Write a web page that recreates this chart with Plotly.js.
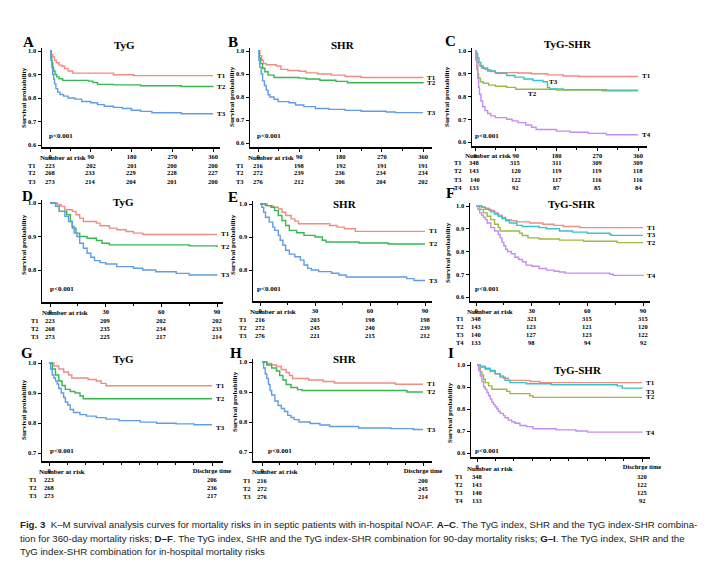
<!DOCTYPE html>
<html>
<head>
<meta charset="utf-8">
<script src="https://cdn.plot.ly/plotly-3.0.1.min.js"></script>
<style>
  html, body { margin: 0; padding: 0; background: #fff; }
  #fig { width: 718px; height: 575px; }
</style>
</head>
<body>
<div id="fig"></div>
<script>
// K-M curves: [time, survival] steps
// A: TyG, 360-day
const A_T1 = [[0,1],[3,0.985],[6,0.975],[10,0.96],[14,0.95],[20,0.94],[26,0.935],[32,0.925],[40,0.915],[50,0.906],[140,0.899],[185,0.895],[360,0.895]];
const A_T2 = [[0,1],[2,0.97],[4,0.95],[6,0.93],[8,0.915],[11,0.9],[15,0.89],[20,0.882],[28,0.875],[85,0.872],[95,0.866],[105,0.858],[140,0.856],[200,0.852],[290,0.849],[360,0.847]];
const A_T3 = [[0,1],[2,0.96],[4,0.93],[6,0.9],[8,0.88],[10,0.86],[13,0.84],[17,0.825],[22,0.815],[30,0.808],[40,0.8],[55,0.795],[70,0.785],[90,0.78],[105,0.772],[120,0.765],[140,0.76],[160,0.755],[180,0.748],[200,0.743],[225,0.737],[290,0.733],[360,0.733]];
// B: SHR, 360-day
const B_T1 = [[0,1],[4,0.98],[8,0.96],[12,0.945],[18,0.94],[40,0.935],[50,0.92],[65,0.915],[90,0.912],[105,0.905],[130,0.9],[160,0.895],[190,0.889],[225,0.885],[360,0.884]];
const B_T2 = [[0,1],[3,0.97],[6,0.945],[10,0.925],[15,0.91],[22,0.895],[35,0.885],[90,0.882],[105,0.878],[135,0.873],[170,0.868],[195,0.862],[360,0.86]];
const B_T3 = [[0,1],[2,0.96],[4,0.93],[7,0.9],[10,0.87],[14,0.85],[18,0.83],[22,0.81],[26,0.8],[35,0.79],[44,0.78],[68,0.775],[82,0.765],[100,0.758],[125,0.75],[155,0.746],[190,0.742],[225,0.738],[280,0.735],[300,0.732],[360,0.732]];
// C: TyG-SHR, 360-day
const C_T1 = [[0,1],[3,0.97],[6,0.95],[9,0.935],[14,0.925],[22,0.918],[35,0.91],[45,0.905],[95,0.903],[125,0.9],[160,0.895],[195,0.89],[230,0.888],[360,0.888]];
const C_T2 = [[0,1],[2,0.96],[4,0.93],[6,0.9],[8,0.88],[12,0.865],[18,0.858],[30,0.85],[45,0.845],[70,0.84],[90,0.832],[180,0.828],[280,0.825],[360,0.825]];
const C_T3 = [[0,1],[3,0.99],[6,0.97],[9,0.95],[13,0.935],[18,0.925],[28,0.912],[45,0.902],[70,0.892],[88,0.885],[108,0.877],[128,0.87],[150,0.865],[160,0.84],[165,0.833],[195,0.83],[290,0.828],[360,0.827]];
const C_T4 = [[0,1],[2,0.96],[4,0.92],[6,0.88],[8,0.84],[10,0.81],[13,0.78],[17,0.755],[22,0.738],[28,0.725],[35,0.715],[45,0.707],[70,0.7],[82,0.693],[95,0.685],[112,0.675],[125,0.665],[135,0.655],[180,0.648],[210,0.643],[250,0.638],[290,0.632],[360,0.632]];
// D: TyG, 90-day
const D_T1 = [[0,1],[4,0.995],[6,0.99],[8,0.98],[12,0.975],[14,0.965],[16,0.955],[18,0.945],[25,0.94],[27,0.932],[32,0.925],[36,0.92],[41,0.915],[45,0.91],[50,0.906],[90,0.906]];
const D_T2 = [[0,1],[3,0.99],[5,0.975],[9,0.965],[11,0.945],[12,0.925],[14,0.91],[16,0.9],[20,0.895],[25,0.888],[28,0.88],[32,0.875],[75,0.872],[90,0.869]];
const D_T3 = [[0,1],[3,0.99],[5,0.975],[8,0.96],[10,0.945],[12,0.93],[13,0.91],[14.5,0.9],[16,0.88],[18,0.865],[20,0.85],[22,0.838],[24,0.828],[27,0.822],[30,0.818],[36,0.81],[45,0.805],[50,0.8],[57,0.795],[68,0.79],[75,0.785],[90,0.784]];
// E: SHR, 90-day
const E_T1 = [[0,1],[4,0.995],[7,0.99],[10,0.985],[12,0.975],[14,0.965],[17,0.955],[19,0.948],[21,0.94],[38,0.935],[42,0.93],[46,0.925],[52,0.917],[90,0.917]];
const E_T2 = [[0,1],[3,0.995],[6,0.99],[8,0.98],[10,0.965],[12,0.95],[14,0.935],[16,0.92],[20,0.913],[24,0.905],[30,0.9],[34,0.89],[36,0.885],[54,0.882],[70,0.879],[90,0.879]];
const E_T3 = [[0,1],[1,0.99],[2,0.975],[3,0.96],[5,0.945],[7,0.93],[8,0.92],[10,0.905],[11,0.89],[12.5,0.875],[14,0.86],[16,0.848],[19,0.84],[22,0.83],[24,0.815],[26,0.805],[28,0.8],[32,0.795],[39,0.79],[43,0.785],[47,0.779],[80,0.774],[84,0.768],[90,0.768]];
// F: TyG-SHR, 90-day
const F_T1 = [[0,1],[3,0.995],[5,0.99],[7,0.98],[10,0.97],[12,0.96],[14,0.95],[16,0.94],[19,0.935],[22,0.93],[29,0.925],[36,0.92],[42,0.915],[47,0.91],[56,0.905],[90,0.905]];
const F_T2 = [[0,1],[2,0.985],[4,0.97],[6,0.955],[8,0.94],[10,0.92],[12,0.905],[13,0.89],[23.5,0.88],[25,0.87],[28,0.86],[34,0.855],[45,0.85],[58,0.845],[76,0.839],[90,0.839]];
const F_T3 = [[0,1],[3,0.995],[5,0.985],[8,0.975],[10,0.965],[12,0.955],[14,0.945],[16,0.935],[18,0.925],[22,0.915],[25,0.91],[34,0.905],[38,0.9],[45,0.89],[52,0.885],[60,0.88],[72,0.875],[73,0.871],[90,0.871]];
const F_T4 = [[0,1],[1,0.985],[2,0.97],[3,0.96],[4,0.95],[5,0.94],[6,0.925],[8,0.905],[10,0.89],[12,0.875],[13,0.86],[14,0.84],[15,0.825],[16,0.81],[17,0.8],[19,0.79],[21,0.775],[23,0.765],[25,0.755],[27,0.74],[30,0.735],[34,0.725],[38,0.718],[42,0.713],[45,0.71],[48,0.705],[72,0.7],[74,0.695],[90,0.692]];
// G: TyG, in-hospital (time scaled to discharge = 100)
const G_T1 = [[0,1],[3,0.99],[6,0.98],[9,0.97],[12,0.96],[14,0.95],[24,0.945],[29,0.94],[32,0.932],[35,0.924],[100,0.924]];
const G_T2 = [[0,1],[2,0.98],[4,0.96],[6,0.94],[8,0.925],[10,0.912],[13,0.905],[16,0.9],[19,0.89],[21,0.881],[100,0.881]];
const G_T3 = [[0,1],[1,0.98],[2,0.96],[3,0.95],[4,0.94],[5,0.93],[6,0.915],[7.5,0.9],[9,0.885],[10,0.87],[11.5,0.86],[13,0.845],[15,0.835],[19,0.828],[23,0.823],[29,0.818],[35,0.813],[43,0.808],[56,0.803],[66,0.799],[78,0.797],[89,0.794],[100,0.794]];
// H: SHR, in-hospital
const H_T1 = [[0,1],[3,0.995],[6,0.99],[9,0.985],[12,0.975],[15,0.965],[17,0.955],[19,0.945],[29,0.94],[38,0.935],[45,0.93],[83,0.926],[100,0.926]];
const H_T2 = [[0,1],[3,0.99],[6,0.98],[9,0.97],[11,0.955],[13,0.94],[15,0.925],[18,0.915],[22,0.908],[25,0.905],[90,0.9],[100,0.9]];
const H_T3 = [[0,1],[1,0.98],[2,0.96],[3,0.945],[4,0.925],[5,0.905],[6,0.89],[8,0.87],[10,0.855],[12,0.845],[14,0.835],[16,0.822],[18,0.815],[20,0.808],[23,0.8],[30,0.795],[36,0.79],[42,0.785],[60,0.78],[80,0.778],[94,0.775],[100,0.775]];
// I: TyG-SHR, in-hospital
const I_T1 = [[0,1],[2,0.99],[5,0.98],[8,0.97],[11,0.96],[14,0.95],[16,0.94],[19,0.93],[32,0.925],[38,0.92],[100,0.92]];
const I_T2 = [[0,1],[1,0.985],[2,0.97],[3,0.955],[4,0.935],[5,0.92],[7,0.905],[9,0.89],[18,0.88],[20,0.87],[32,0.86],[34,0.853],[100,0.853]];
const I_T3 = [[0,1],[2,0.995],[5,0.985],[8,0.975],[11,0.96],[14,0.945],[17,0.93],[20,0.92],[30,0.915],[45,0.91],[85,0.905],[88,0.895],[100,0.893]];
const I_T4 = [[0,1],[1,0.975],[2,0.95],[3,0.925],[4,0.9],[5,0.89],[6,0.875],[7,0.86],[8,0.845],[9,0.83],[10,0.82],[11,0.81],[12,0.8],[13,0.79],[14,0.78],[16,0.77],[17,0.76],[19,0.75],[21,0.742],[23,0.735],[26,0.725],[30,0.72],[34,0.71],[48,0.705],[60,0.7],[67,0.695],[100,0.692]];

// number at risk
const riskTimes360 = [0, 90, 180, 270, 360];
const riskTimes90 = [0, 30, 60, 90];
const riskTimesHosp = [0, 100];
const riskA = [[223,202,201,200,200],[268,233,229,228,227],[273,214,204,201,200]];
const riskB = [[216,198,192,191,191],[272,239,236,234,234],[276,212,206,204,202]];
const riskC = [[348,315,311,309,309],[143,120,119,119,118],[140,122,117,116,116],[133,92,87,85,84]];
const riskD = [[223,209,202,202],[268,235,234,233],[273,225,217,214]];
const riskE = [[216,203,198,198],[272,245,240,239],[276,221,215,212]];
const riskF = [[348,321,315,315],[143,123,121,120],[140,127,123,122],[133,98,94,92]];
const riskG = [[223,206],[268,236],[273,217]];
const riskH = [[216,200],[272,245],[276,214]];
const riskI = [[348,320],[143,122],[140,125],[133,92]];

const groups3 = ['T1', 'T2', 'T3'];
const groups4 = ['T1', 'T2', 'T3', 'T4'];

const W = 718, H = 575;
const SERIF = 'Liberation Serif, Times New Roman, serif';
const COL3 = ['#f28b80', '#35b84e', '#5f9de6'];
const COL4 = ['#f28b80', '#9dbb3c', '#35c4c9', '#c78cf2'];

// panel geometry in pixels: box = [left, right, top, bottom] of the axes
const panels = [
  { key: 'A', title: 'TyG', curves: [A_T1, A_T2, A_T3], risk: riskA, rt: riskTimes360, box: [42, 220, 48, 147], xa: [[0, 50], [360, 213]], ya: [[1, 51], [0.6, 145]], kind: 'y',
    titleXY: [124, 45], letterXY: [28, 42], ytXY: [24, 98], pXY: [47, 136], narXY: [63, 158], rowX: 32, rowY: [165, 173, 181] },
  { key: 'B', title: 'SHR', curves: [B_T1, B_T2, B_T3], risk: riskB, rt: riskTimes360, box: [250, 432, 48, 147], xa: [[0, 258], [360, 423]], ya: [[1, 51], [0.6, 143]], kind: 'y',
    titleXY: [343, 45], letterXY: [233, 42], ytXY: [232, 97], pXY: [255, 136], narXY: [271, 158], rowX: 240, rowY: [165, 173, 181] },
  { key: 'C', title: 'TyG-SHR', curves: [C_T1, C_T2, C_T3, C_T4], risk: riskC, rt: riskTimes360, box: [472, 647, 48, 146], xa: [[0, 475], [360, 638]], ya: [[1, 51], [0.6, 142]], kind: 'y',
    titleXY: [568, 44], letterXY: [451, 41], ytXY: [447, 97], pXY: [473, 136], narXY: [488, 156], rowX: 458, rowY: [163, 171, 179, 187],
    midLabels: { T2: [126, 0.811], T3: [174, 0.862] } },
  { key: 'D', title: 'TyG', curves: [D_T1, D_T2, D_T3], risk: riskD, rt: riskTimes90, box: [42, 223, 200, 302], xa: [[0, 50], [90, 217]], ya: [[1, 203], [0.8, 270]], kind: 'q',
    titleXY: [123, 202], letterXY: [27, 196], ytXY: [24, 245], pXY: [48, 289], narXY: [65, 313], rowX: 35, rowY: [320, 328, 336] },
  { key: 'E', title: 'SHR', curves: [E_T1, E_T2, E_T3], risk: riskE, rt: riskTimes90, box: [253, 432, 201, 301], xa: [[0, 260], [90, 425]], ya: [[1, 204], [0.8, 270]], kind: 'q',
    titleXY: [345, 204], letterXY: [233, 197], ytXY: [233, 245], pXY: [255, 289], narXY: [273, 312], rowX: 243, rowY: [319, 327, 335] },
  { key: 'F', title: 'TyG-SHR', curves: [F_T1, F_T2, F_T3, F_T4], risk: riskF, rt: riskTimes90, box: [470, 650, 203, 301], xa: [[0, 476], [90, 643]], ya: [[1, 206], [0.6, 297]], kind: 'q',
    titleXY: [572, 204], letterXY: [451, 193], ytXY: [448, 253], pXY: [473, 289], narXY: [490, 312], rowX: 460, rowY: [318, 326, 334, 342] },
  { key: 'G', title: 'TyG', curves: [G_T1, G_T2, G_T3], risk: riskG, rt: riskTimesHosp, box: [42, 223, 360, 461], xa: [[0, 49], [100, 212]], ya: [[1, 363], [0.7, 453]], kind: 'h',
    titleXY: [123, 359], letterXY: [27, 353], ytXY: [24, 410], pXY: [48, 451], narXY: [62, 472], rowX: 33, rowY: [479, 487, 495], labelShift: { T3: -3 } },
  { key: 'H', title: 'SHR', curves: [H_T1, H_T2, H_T3], risk: riskH, rt: riskTimesHosp, box: [253, 432, 359, 461], xa: [[0, 262], [100, 423]], ya: [[1, 362], [0.7, 452]], kind: 'h',
    titleXY: [345, 359], letterXY: [236, 353], ytXY: [235, 402], pXY: [266, 451], narXY: [275, 472], rowX: 247, rowY: [480, 488, 496] },
  { key: 'I', title: 'TyG-SHR', curves: [I_T1, I_T2, I_T3, I_T4], risk: riskI, rt: riskTimesHosp, box: [471, 650, 362, 457], xa: [[0, 477], [100, 642]], ya: [[1, 365], [0.6, 453]], kind: 'h',
    titleXY: [578, 370], letterXY: [451, 353], ytXY: [450, 413], pXY: [473, 451], narXY: [490, 469], rowX: 459, rowY: [476, 484, 492, 500], labelShift: { T3: -3 } }
];

function font(size, extra) {
  return Object.assign({ family: SERIF, size: size, color: '#000', weight: 'bold' }, extra || {});
}

function note(text, xPx, yPx, size, opts) {
  return Object.assign({
    text: text, x: xPx / W, y: 1 - yPx / H, xref: 'paper', yref: 'paper',
    showarrow: false, font: font(size), xanchor: 'center', yanchor: 'middle'
  }, opts || {});
}

// value range that makes the two anchor points land on their pixels
function rangeFrom(anchors, p0, p1) {
  const [[v1, q1], [v2, q2]] = anchors;
  const k = (v2 - v1) / (q2 - q1);
  return [v1 + (p0 - q1) * k, v1 + (p1 - q1) * k];
}

const traces = [];
const annotations = [];
const layout = {
  width: W, height: H,
  margin: { l: 0, r: 0, t: 0, b: 0 },
  paper_bgcolor: '#fff', plot_bgcolor: '#fff',
  showlegend: false, hovermode: false,
  annotations: annotations
};

panels.forEach((p, i) => {
  const n = i + 1;
  const xk = n === 1 ? 'x' : 'x' + n;
  const yk = n === 1 ? 'y' : 'y' + n;
  const [x0, x1, yT, yB] = p.box;
  const names = p.curves.length === 4 ? groups4 : groups3;
  const colors = p.curves.length === 4 ? COL4 : COL3;

  const xaxis = {
    domain: [x0 / W, x1 / W], anchor: yk,
    range: rangeFrom(p.xa, x0, x1),
    showline: true, linecolor: '#000', linewidth: 1.5,
    showgrid: false, zeroline: false,
    ticks: 'outside', ticklen: 3, tickwidth: 1, tickcolor: '#000',
    tickfont: font(6.5), fixedrange: true
  };
  if (p.kind === 'y') {
    Object.assign(xaxis, { tickmode: 'linear', tick0: 0, dtick: 90,
      minor: { tickmode: 'linear', tick0: 0, dtick: 45, ticks: 'outside', ticklen: 2, tickcolor: '#000' } });
  } else if (p.kind === 'q') {
    Object.assign(xaxis, { tickmode: 'linear', tick0: 0, dtick: 30,
      minor: { tickmode: 'linear', tick0: 0, dtick: 15, ticks: 'outside', ticklen: 2, tickcolor: '#000' } });
  } else {
    Object.assign(xaxis, { tickmode: 'array', tickvals: riskTimesHosp, ticktext: ['0', 'Dischrge time'],
      minor: { tickmode: 'linear', tick0: 0, dtick: 100 / 9, ticks: 'outside', ticklen: 2, tickcolor: '#000' } });
  }
  const yaxis = {
    domain: [1 - yB / H, 1 - yT / H], anchor: xk,
    range: rangeFrom(p.ya, yB, yT),
    showline: true, linecolor: '#000', linewidth: 1.5,
    showgrid: false, zeroline: false,
    tickmode: 'linear', tick0: 0, dtick: 0.1, tickformat: '.1f',
    ticks: 'outside', ticklen: 3, tickwidth: 1, tickcolor: '#000',
    tickfont: font(6.5), fixedrange: true
  };
  layout['xaxis' + (n === 1 ? '' : n)] = xaxis;
  layout['yaxis' + (n === 1 ? '' : n)] = yaxis;

  p.curves.forEach((c, j) => {
    traces.push({
      type: 'scatter', mode: 'lines', xaxis: xk, yaxis: yk,
      x: c.map(d => d[0]), y: c.map(d => d[1]),
      line: { shape: 'hv', color: colors[j], width: 1.4 },
      hoverinfo: 'skip'
    });
    const name = names[j];
    const mid = p.midLabels && p.midLabels[name];
    const last = c[c.length - 1];
    annotations.push({
      text: name, xref: xk, yref: yk,
      x: mid ? mid[0] : last[0], y: mid ? mid[1] : last[1],
      xanchor: mid ? 'center' : 'left', yanchor: 'middle',
      xshift: mid ? 0 : 2, yshift: (p.labelShift && p.labelShift[name]) || 0,
      showarrow: false, font: font(7)
    });
  });

  // panel texts
  annotations.push(note(p.key, p.letterXY[0], p.letterXY[1], 15));
  annotations.push(note(p.title, p.titleXY[0], p.titleXY[1], 11));
  annotations.push(note('Survival probability', p.ytXY[0], p.ytXY[1], 7, { textangle: -90 }));
  annotations.push(note('p<0.001', p.pXY[0], p.pXY[1], 7, { xanchor: 'left' }));
  annotations.push(note('Number at risk', p.narXY[0], p.narXY[1], 7));

  // risk table
  p.risk.forEach((row, r) => {
    annotations.push(note(names[r], p.rowX, p.rowY[r], 6.5));
    row.forEach((v, k) => {
      annotations.push({
        text: String(v), xref: xk, yref: 'paper',
        x: p.rt[k], y: 1 - p.rowY[r] / H,
        xanchor: 'center', yanchor: 'middle', showarrow: false, font: font(6.5)
      });
    });
  });
});

// caption
const CAP = 'Liberation Sans Narrow, Arial Narrow, Liberation Sans, sans-serif';
const captionLines = [
  '<b>Fig. 3</b>  K–M survival analysis curves for mortality risks in in septic patients with in-hospital NOAF. <b>A–C</b>. The TyG index, SHR and the TyG index-SHR combina-',
  'tion for 360-day mortality risks; <b>D–F</b>. The TyG index, SHR and the TyG index-SHR combination for 90-day mortality risks; <b>G–I</b>. The TyG index, SHR and the',
  'TyG index-SHR combination for in-hospital mortality risks'
];
const captionY = [524, 538, 551];
captionLines.forEach((t, k) => {
  annotations.push(note(t, 18, captionY[k], 9.7, { xanchor: 'left', font: { family: CAP, size: 9.7, color: '#222' } }));
});

Plotly.newPlot('fig', traces, layout, { staticPlot: true, displayModeBar: false });
</script>
</body>
</html>
